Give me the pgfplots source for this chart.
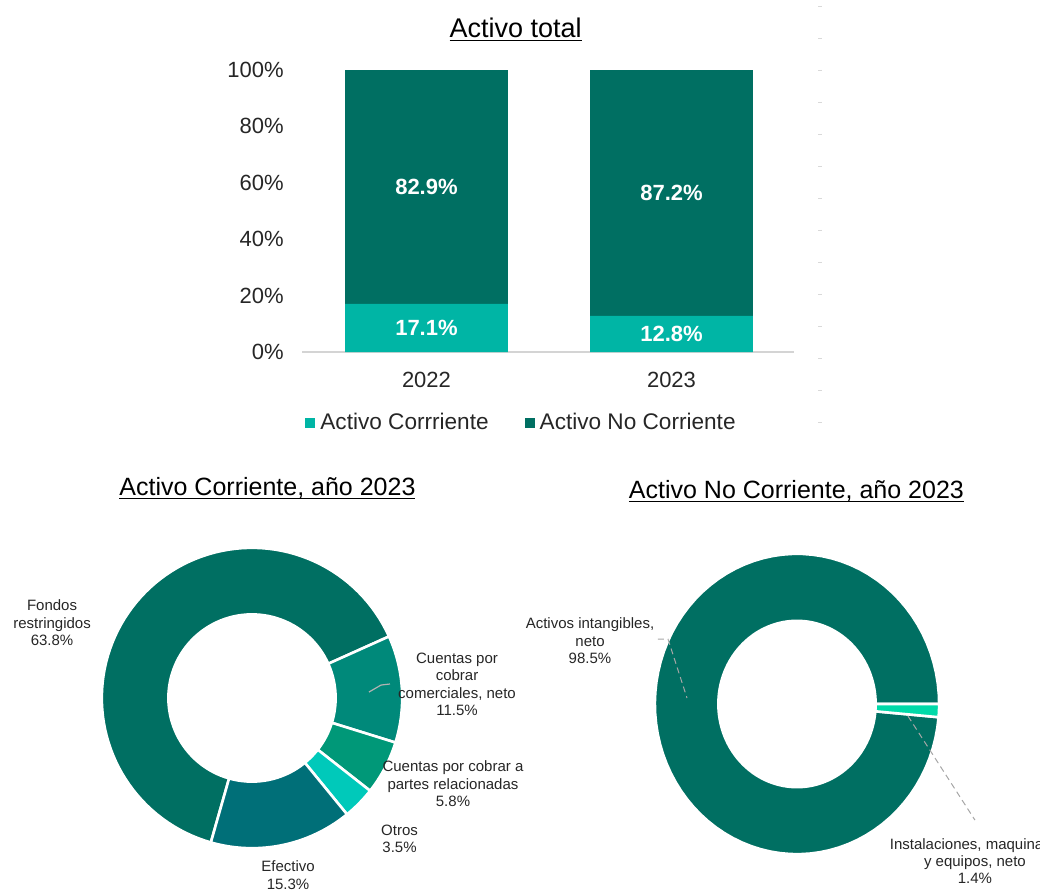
\documentclass[border=0pt]{standalone}
\usepackage{pgfplots}
\pgfplotsset{compat=1.18}
\usepackage{pgfplotstable}
\usepackage{fontspec}
\setmainfont{Liberation Sans}

\definecolor{acCorr}{HTML}{00B5A5}
\definecolor{acNoCorr}{HTML}{006F62}
% Activo corriente slices (Fondos, comerciales, partes rel., otros, efectivo)
\definecolor{cc0}{HTML}{006F62}
\definecolor{cc1}{HTML}{00897A}
\definecolor{cc2}{HTML}{009878}
\definecolor{cc3}{HTML}{00C9BA}
\definecolor{cc4}{HTML}{006F78}
% Activo no corriente slices (intangibles, instalaciones)
\definecolor{nc0}{HTML}{006F62}
\definecolor{nc1}{HTML}{00DAA9}

\pgfplotstableread{
value
63.8
11.5
5.8
3.5
15.3
}\corrdata

\pgfplotstableread{
value
98.5
1.4
}\nocorrdata

\newcommand\ultitle[1]{\setbox0=\hbox{#1}\rlap{\copy0}\rule[-2.2pt]{\wd0}{0.9pt}}

% donut wedges, clockwise from start angle #2, colours #3<row>
\newcommand\drawdonut[3]{%
  \pgfplotstablegetrowsof{#1}%
  \pgfmathtruncatemacro\dlast{\pgfplotsretval-1}%
  \gdef\dtotal{0}%
  \pgfplotsforeachungrouped \di in {0,...,\dlast}{%
    \pgfplotstablegetelem{\di}{value}\of{#1}%
    \pgfmathsetmacro\dtmp{\dtotal+\pgfplotsretval}%
    \xdef\dtotal{\dtmp}%
  }%
  \xdef\dangle{#2}%
  \pgfplotsforeachungrouped \di in {0,...,\dlast}{%
    \pgfplotstablegetelem{\di}{value}\of{#1}%
    \pgfmathsetmacro\dnext{\dangle-\pgfplotsretval/\dtotal*360}%
    \edef\dslice{\noexpand\addplot[fill=#3\di, draw=white, line width=1.3pt,
      domain=\dnext:\dangle, samples=90, variable=\noexpand\t]
      ({1.008*cos(\noexpand\t)},{1.008*sin(\noexpand\t)}) -- (axis cs:0,0) -- cycle;}%
    \dslice
    \xdef\dangle{\dnext}%
  }%
}

\pgfplotsset{
  sqlegend/.style={legend image code/.code={\fill[##1] (0pt,-2.5pt) rectangle (5pt,2.5pt);}},
  leader/.style={black!35, line width=0.5pt, densely dashed, mark=none},
}
\tikzset{
  lbl/.style={font=\fontsize{7.5}{8.7}\selectfont, align=center, text=black!85, inner sep=0pt},
  barlbl/.style={font=\fontsize{11}{13}\selectfont\bfseries, text=white, inner sep=0pt},
}

\begin{document}
\begin{tikzpicture}
\useasboundingbox (0pt,0pt) rectangle (520pt,445.5pt);
\draw[black!15, line width=2pt, dash pattern=on 0.5pt off 15.5pt] (410pt,442.5pt) -- (410pt,225pt);

% ---- Activo total (stacked bars)
\begin{axis}[
  at={(151pt,269.5pt)}, anchor=south west,
  scale only axis, width=246pt, height=141pt,
  ybar stacked, bar width=0.665,
  xmin=-0.508, xmax=1.5, ymin=0, ymax=100, enlargelimits=false,
  xtick={0,1}, xticklabels={2022,2023},
  ytick={0,20,40,60,80,100},
  yticklabel={\pgfmathprintnumber[assume math mode=true]{\tick}\%},
  axis lines*=left,
  y axis line style={draw=none},
  x axis line style={draw=black!17, line width=0.9pt},
  major tick length=0pt,
  ticklabel style={font=\fontsize{11}{13}\selectfont, text=black!85, inner sep=0pt},
  yticklabel style={xshift=-9pt},
  xticklabel style={yshift=-10pt},
  title={\ultitle{Activo total}},
  title style={at={(0.434,1)}, anchor=base, yshift=10.5pt,
    font=\fontsize{13.5}{16}\selectfont, inner sep=0pt},
  legend columns=2,
  legend style={at={(0,0)}, anchor=west, xshift=1.5pt, yshift=-35.5pt,
    draw=none, fill=none, inner sep=0pt, font=\fontsize{11.3}{13}\selectfont,
    text=black!85, nodes={inner sep=2.5pt},
    /tikz/every even column/.append style={column sep=15.5pt}},
]
\addplot[fill=acCorr, draw=none, sqlegend] coordinates {(0,17.1) (1,12.8)};
\addlegendentry{Activo Corrriente}
\addplot[fill=acNoCorr, draw=none, sqlegend] coordinates {(0,82.9) (1,87.2)};
\addlegendentry{Activo No Corriente}
% label anchors at the middle of each segment
\coordinate (l22a) at (axis cs:0,8.55);
\coordinate (l23a) at (axis cs:1,6.4);
\coordinate (l22b) at (axis cs:0,58.55);
\coordinate (l23b) at (axis cs:1,56.4);
\end{axis}
\node[barlbl] at (l22a) {17.1\%};
\node[barlbl] at (l23a) {12.8\%};
\node[barlbl] at (l22b) {82.9\%};
\node[barlbl] at (l23b) {87.2\%};

% ---- Activo corriente 2023
\begin{axis}[
  at={(51.5pt,22pt)}, anchor=south west,
  scale only axis, width=149pt, height=149pt,
  hide axis, clip=false, enlargelimits=false,
  xmin=-1, xmax=1, ymin=-1, ymax=1,
  title={\ultitle{Activo Corriente, año 2023}},
  title style={at={(0.552,1)}, anchor=base, yshift=21pt,
    font=\fontsize{12.5}{15}\selectfont, inner sep=0pt},
]
\drawdonut{\corrdata}{254.1}{cc}
\addplot[fill=white, draw=none, domain=0:360, samples=120] ({0.57*cos(x)},{0.57*sin(x)}) -- cycle;
\addplot[black!30, line width=0.6pt, mark=none] coordinates {(0.785,0.040) (0.866,0.087) (0.926,0.094)};
\node[lbl] at (axis cs:-1.342,0.505) {Fondos\\restringidos\\63.8\%};
\node[lbl] at (axis cs:1.376,0.091) {Cuentas por\\cobrar\\comerciales, neto\\11.5\%};
\node[lbl] at (axis cs:1.349,-0.577) {Cuentas por cobrar a\\partes relacionadas\\5.8\%};
\node[lbl] at (axis cs:0.990,-0.944) {Otros\\3.5\%};
\node[lbl] at (axis cs:0.242,-1.188) {Efectivo\\15.3\%};
\end{axis}

% ---- Activo no corriente 2023
\begin{axis}[
  at={(328pt,19pt)}, anchor=south west,
  scale only axis, width=141pt, height=149pt,
  hide axis, clip=false, enlargelimits=false,
  xmin=-1, xmax=1, ymin=-1, ymax=1,
  title={\ultitle{Activo No Corriente, año 2023}},
  title style={at={(0.498,1)}, anchor=base, yshift=22.5pt,
    font=\fontsize{12.5}{15}\selectfont, inner sep=0pt},
]
\drawdonut{\nocorrdata}{354.95}{nc}
\addplot[fill=white, draw=none, domain=0:360, samples=120] ({0.567*cos(x)},{0.567*sin(x)}) -- cycle;
\addplot[leader] coordinates {(-0.986,0.436) (-0.915,0.436) (-0.780,0.040)};
\addplot[leader] coordinates {(0.787,-0.081) (1.262,-0.779)};
\node[lbl] at (axis cs:-1.468,0.423) {Activos intangibles,\\neto\\98.5\%};
\node[lbl] at (axis cs:1.262,-1.054) {Instalaciones, maquinaria\\y equipos, neto\\1.4\%};
\end{axis}
\end{tikzpicture}
\end{document}
